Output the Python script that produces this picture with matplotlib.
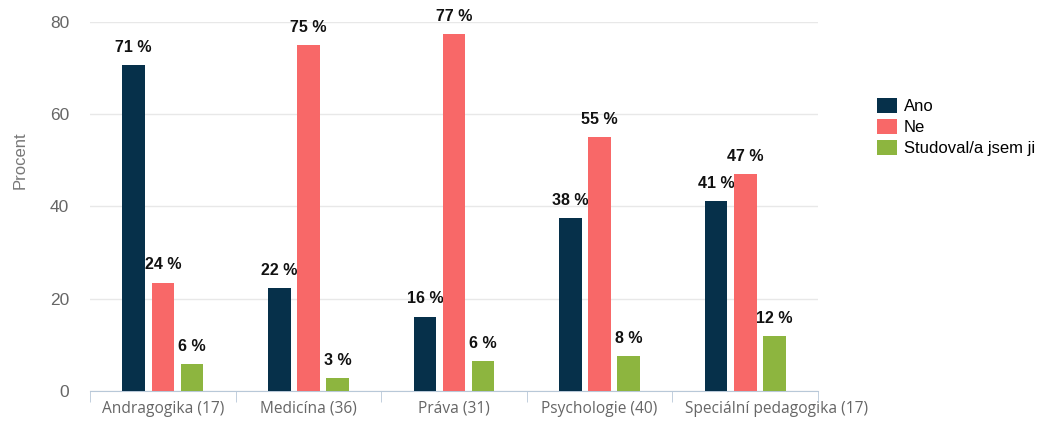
import matplotlib
matplotlib.use("Agg")
import matplotlib.pyplot as plt
import matplotlib.transforms as mtransforms
import numpy as np

obory = ["Andragogika (17)", "Medicína (36)", "Práva (31)", "Psychologie (40)", "Speciální pedagogika (17)"]
ano = [70.6, 22.2, 16.1, 37.5, 41.2]
ne = [23.5, 75.0, 77.4, 55.0, 47.1]
studoval = [5.9, 2.8, 6.5, 7.5, 11.8]

serie = [("Ano", ano, "#06304a"), ("Ne", ne, "#f86868"), ("Studoval/a jsem ji", studoval, "#8db53f")]

fig = plt.figure(figsize=(10.43, 4.23), dpi=100)
ax = fig.add_axes([0.0863, 0.076, 0.698, 0.872])

x = np.arange(len(obory))
step = 0.2
width = 0.155
for i, (name, vals, col) in enumerate(serie):
    pos = x + (i - 1) * step
    ax.bar(pos, vals, width, color=col, label=name, zorder=3)
    for p, v in zip(pos, vals):
        ax.text(p, v + 2.2, "%d %%" % round(v), ha="center", va="bottom",
                fontsize=11.5, fontweight="bold", family="Liberation Sans", color="#111111")

ax.set_xlim(-0.5, len(obory) - 0.5)
ax.set_ylim(0, 80)
ax.set_yticks([0, 20, 40, 60, 80])
ax.yaxis.grid(True, color="#e8e8e8", linewidth=1, zorder=0)
for s in ["left", "right", "top"]:
    ax.spines[s].set_visible(False)
ax.spines["bottom"].set_color("#b8c8d8")
ax.tick_params(axis="y", length=0, labelsize=12.5, labelcolor="#666666", pad=15)
for t in ax.get_yticklabels():
    t.set_family("Liberation Sans")

ax.set_xticks(x)
ax.set_xticklabels(obory, fontsize=11.2, color="#666666", family="Open Sans")
ax.tick_params(axis="x", length=0, pad=7)
ax.set_xticks(np.arange(len(obory) + 1) - 0.5, minor=True)
ax.tick_params(axis="x", which="minor", length=8, color="#b8c8d8")
# last label is pushed right so it does not run into its neighbour
last = ax.get_xticklabels()[-1]
last.set_transform(last.get_transform() + mtransforms.ScaledTranslation(0.31, 0, fig.dpi_scale_trans))

ax.set_ylabel("Procent", fontsize=12, color="#777777", family="Liberation Sans")
ax.yaxis.set_label_coords(-0.0856, 0.626)

fig.legend(loc="upper left", bbox_to_anchor=(0.834, 0.785), frameon=False,
           handlelength=1.2, handleheight=1.0, handletextpad=0.45, labelspacing=0.3,
           borderaxespad=0, prop={"family": "Liberation Sans", "size": 12})

fig.savefig("out.png", dpi=100)
